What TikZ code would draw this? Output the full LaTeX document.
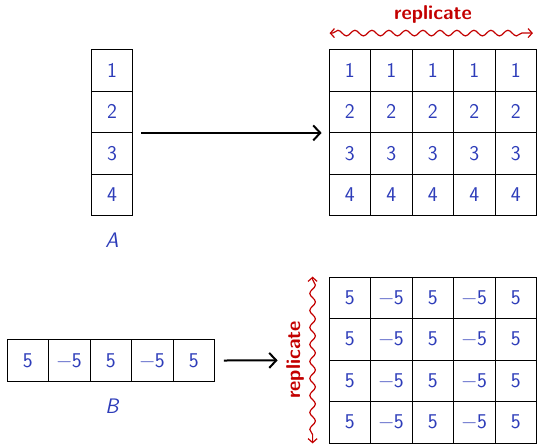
\documentclass[tikz,border=0pt]{standalone}
\usetikzlibrary{calc,decorations.pathmorphing,arrows.meta}
\definecolor{numblue}{RGB}{45,60,185}
\definecolor{repred}{RGB}{195,0,0}
\begin{document}
\begin{tikzpicture}[x=1pt,y=-1pt,
  cell/.style={draw=black,line width=0.8pt,minimum size=41.5pt,inner sep=0pt,
    text=numblue,font=\sffamily\fontsize{21}{24}\selectfont},
  lbl/.style={text=numblue,font=\sffamily\itshape\fontsize{21}{24}\selectfont},
  rep/.style={text=repred,font=\sffamily\bfseries\fontsize{20}{23}\selectfont},
  bigarrow/.style={-{Straight Barb[length=7pt,width=15pt]},line width=2pt,black},
  wavy/.style={repred,line width=1.2pt,{Straight Barb[length=4pt,width=9pt]}-{Straight Barb[length=4pt,width=9pt]},
    decorate,decoration={snake,amplitude=2.8pt,segment length=17pt,pre length=3pt,post length=3pt}}]
\useasboundingbox (0,0) rectangle (537,444);
% A column
\foreach \v [count=\i] in {1,2,3,4}{
  \node[cell] (a\i) at (112,{28.75+41.5*\i}) {\v};
}
\node[lbl] (la) at (112,240) {A};
% replicated A
\foreach \r in {1,2,3,4}{
  \foreach \c in {1,...,5}{
    \node[cell] (r\r\c) at ({308.25+41.5*\c},{28.75+41.5*\r}) {\r};
  }
}
% B row
\foreach \v [count=\i] in {5,\textminus5,5,\textminus5,5}{
  \node[cell] (b\i) at ({-13.75+41.5*\i},360.5) {\v};
}
\node[lbl] (lb) at (112,406) {B};
% replicated B
\foreach \r in {1,2,3,4}{
  \foreach \v [count=\c] in {5,\textminus5,5,\textminus5,5}{
    \node[cell] (q\r\c) at ({308.25+41.5*\c},{256.25+41.5*\r}) {\v};
  }
}
% arrows
\draw[bigarrow] ($(a2.south east)+(8,0)$) -- ($(r21.south west)+(-7,0)$);
\draw[bigarrow] ($(b5.east)+(9,0)$) -- ($(q21.south west)+(-51,0)$);
% replicate markers
\coordinate (t1) at ($(r11.north west)+(1,-16)$);
\coordinate (t2) at ($(r15.north east)+(-4,-16)$);
\draw[wavy] (t1) -- (t2);
\node[rep] (lt) at (433,15) {replicate};
\coordinate (s1) at ($(q11.north west)+(-16,0)$);
\coordinate (s2) at ($(q41.south west)+(-16,0)$);
\draw[wavy] (s1) -- (s2);
\node[rep,rotate=90] (ls) at (295,360) {replicate};
\end{tikzpicture}
\end{document}
